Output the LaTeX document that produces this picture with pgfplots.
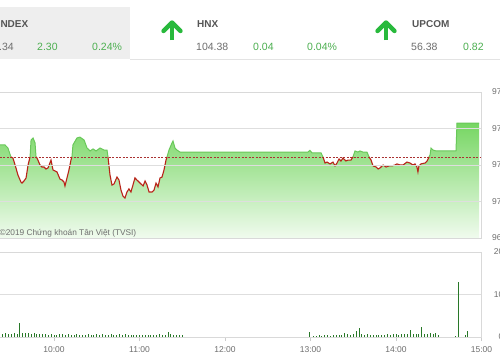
\documentclass[border=0pt]{standalone}
\usepackage{fontspec}
\setmainfont{Liberation Sans}
\usepackage{pgfplots}
\usepackage{pgfplotstable}
\pgfplotsset{compat=1.18}

\definecolor{upgreen}{RGB}{76,175,80}
\definecolor{arrowgreen}{RGB}{40,185,60}
\definecolor{hdrgray}{RGB}{238,238,238}
\definecolor{titlegray}{RGB}{85,85,85}
\definecolor{txtgray}{RGB}{110,110,110}
\definecolor{gridgray}{RGB}{222,222,222}
\definecolor{linegreen}{RGB}{105,200,90}
\definecolor{linered}{RGB}{185,35,25}
\definecolor{refred}{RGB}{170,50,50}
\definecolor{volgreen}{RGB}{40,120,40}
\definecolor{filltop}{RGB}{118,214,98}
\definecolor{fillbot}{RGB}{240,251,238}

% minutes since 9:00, index value, green part, red part
\pgfplotstableread{
m v g r
22.1 973.10 973.10 nan
25.6 973.10 973.10 nan
27.7 972.93 972.93 nan
29.8 972.44 972.44 972.44
31.2 972.38 nan 972.38
33.3 971.84 nan 971.84
34.7 971.45 nan 971.45
36.8 971.07 nan 971.07
37.5 971.01 nan 971.01
38.9 971.12 nan 971.12
40.4 971.29 nan 971.29
41.8 972.00 nan 972.00
43.2 972.44 972.44 972.44
43.9 973.37 973.37 nan
45.3 973.48 973.48 nan
46.7 973.21 973.21 nan
47.4 972.44 972.44 972.44
48.1 972.38 nan 972.38
50.2 972.00 nan 972.00
51.6 971.89 nan 971.89
53.0 971.89 nan 971.89
54.4 971.78 nan 971.78
55.8 971.84 nan 971.84
57.9 972.27 nan 972.27
59.3 971.73 nan 971.73
62.1 971.62 nan 971.62
64.2 971.23 nan 971.23
65.6 971.18 nan 971.18
67.0 971.07 nan 971.07
67.7 970.85 nan 970.85
69.1 971.29 nan 971.29
70.5 971.73 nan 971.73
71.9 972.27 nan 972.27
72.6 972.44 972.44 972.44
73.3 973.10 973.10 nan
76.1 973.48 973.48 nan
78.2 973.53 973.53 nan
81.1 973.37 973.37 nan
83.2 972.93 972.93 nan
85.3 972.77 972.77 nan
87.4 972.88 972.88 nan
89.5 972.77 972.77 nan
92.3 972.93 972.93 nan
95.1 972.82 972.82 nan
97.2 972.82 972.82 nan
97.9 972.44 972.44 972.44
99.3 971.45 nan 971.45
100.7 970.90 nan 970.90
102.1 970.96 nan 970.96
104.2 971.34 nan 971.34
105.6 971.18 nan 971.18
107.0 970.63 nan 970.63
108.4 970.30 nan 970.30
109.8 970.19 nan 970.19
111.2 970.52 nan 970.52
112.6 970.69 nan 970.69
114.0 970.52 nan 970.52
115.4 970.90 nan 970.90
116.8 971.29 nan 971.29
118.2 971.18 nan 971.18
120.4 971.01 nan 971.01
122.5 970.85 nan 970.85
123.9 971.12 nan 971.12
125.3 970.90 nan 970.90
126.7 970.52 nan 970.52
128.8 970.52 nan 970.52
130.2 970.63 nan 970.63
131.6 971.01 nan 971.01
133.0 970.80 nan 970.80
134.4 971.29 nan 971.29
135.8 971.34 nan 971.34
137.2 971.73 nan 971.73
138.6 972.27 nan 972.27
139.3 972.44 972.44 972.44
140.7 972.82 972.82 nan
142.8 973.21 973.21 nan
143.5 973.32 973.32 nan
144.9 972.93 972.93 nan
146.3 972.82 972.82 nan
148.4 972.71 972.71 nan
150.0 972.71 972.71 nan
238.2 972.71 972.71 nan
239.6 972.80 972.80 nan
241.1 972.66 972.66 nan
247.4 972.66 972.66 nan
248.8 972.44 972.44 972.44
250.2 972.11 nan 972.11
251.6 972.16 nan 972.16
253.7 972.06 nan 972.06
255.8 972.16 nan 972.16
257.2 971.95 nan 971.95
258.6 972.11 nan 972.11
260.0 972.33 nan 972.33
261.4 972.22 nan 972.22
262.8 972.38 nan 972.38
264.9 972.22 nan 972.22
266.3 972.27 nan 972.27
268.4 972.27 nan 972.27
269.8 972.44 972.44 972.44
271.2 972.77 972.77 nan
273.3 972.71 972.71 nan
274.7 972.77 972.77 nan
276.8 972.71 972.71 nan
279.6 972.71 972.71 nan
281.1 972.44 972.44 972.44
282.5 972.27 nan 972.27
283.9 971.95 nan 971.95
286.0 971.89 nan 971.89
287.4 971.78 nan 971.78
288.8 971.84 nan 971.84
290.9 972.00 nan 972.00
293.0 971.89 nan 971.89
295.1 971.95 nan 971.95
297.2 971.95 nan 971.95
299.3 972.00 nan 972.00
300.7 972.06 nan 972.06
302.8 972.00 nan 972.00
304.9 972.00 nan 972.00
307.7 972.16 nan 972.16
309.8 972.11 nan 972.11
311.9 972.00 nan 972.00
313.3 972.06 nan 972.06
314.7 971.89 nan 971.89
315.4 971.62 nan 971.62
316.1 971.95 nan 971.95
317.5 972.06 nan 972.06
320.4 972.11 nan 972.11
321.8 972.22 nan 972.22
323.2 972.44 972.44 972.44
323.9 972.55 972.55 nan
324.6 972.93 972.93 nan
326.0 972.82 972.82 nan
328.1 972.77 972.77 nan
342.1 972.77 972.77 nan
342.8 974.30 974.30 nan
358.4 974.30 974.30 nan
}\price

\pgfplotstableread{
m vol
22 0.9
24 0.7
26 0.9
28 0.8
30 0.7
32 1.0
34 0.8
36 3.2
38 1.0
40 0.9
42 1.0
44 0.8
46 0.9
48 0.7
50 0.8
52 0.6
54 0.8
56 0.5
58 0.7
60 0.5
62 0.4
64 0.6
66 0.8
68 0.5
70 0.6
72 0.4
74 0.5
76 0.6
78 0.4
80 0.5
82 0.4
84 0.6
86 0.4
88 0.5
90 0.7
92 0.4
94 0.8
96 0.5
98 0.4
100 0.6
102 0.5
104 0.4
106 0.8
108 0.4
110 0.6
112 0.4
114 0.5
116 0.4
118 0.4
120 0.5
122 0.4
124 0.5
126 0.4
128 0.5
130 0.4
132 0.5
134 0.6
136 0.5
138 0.5
140 1.2
142 0.6
144 0.5
146 0.4
148 0.4
150 0.4
239 1.2
242 0.3
244 0.3
246 0.4
248 0.3
250 0.4
252 0.5
254 0.3
256 0.4
258 0.5
260 0.4
262 0.5
264 0.9
266 0.7
268 0.5
270 0.8
272 1.4
274 2.1
276 0.6
278 0.5
280 0.6
282 0.5
284 0.4
286 0.5
288 0.4
290 0.5
292 0.4
294 0.6
296 0.5
298 0.7
300 0.6
302 0.5
304 0.7
306 0.6
308 0.8
310 1.6
312 0.7
314 0.8
316 0.6
318 2.3
320 0.7
322 0.6
324 0.9
326 0.8
328 0.9
330 0.5
342 0.3
344 13.0
349 0.5
350 1.5
}\volume

\begin{document}
\begin{tikzpicture}
\useasboundingbox (0pt,0pt) rectangle (500pt,360pt);
\clip (0pt,0pt) rectangle (500pt,360pt);
\fill[white] (0pt,0pt) rectangle (500pt,360pt);

% header
\fill[hdrgray] (-5pt,301pt) rectangle (130pt,353pt);
\draw[gray!22, line width=0.6pt] (130pt,301pt) -- (500pt,301pt);

\node[anchor=base east, inner sep=0pt, text=titlegray, font=\fontsize{10}{11}\selectfont\bfseries] at (28.5pt,333pt) {VN-INDEX};
\node[anchor=base east, inner sep=0pt, text=txtgray, font=\fontsize{10.5}{12}\selectfont] at (14pt,310pt) {974.34};
\node[anchor=base west, inner sep=0pt, text=upgreen, font=\fontsize{10.5}{12}\selectfont] at (37pt,310pt) {2.30};
\node[anchor=base west, inner sep=0pt, text=upgreen, font=\fontsize{10.5}{12}\selectfont] at (92pt,310pt) {0.24\%};

\node[anchor=base west, inner sep=0pt, text=titlegray, font=\fontsize{10}{11}\selectfont\bfseries] at (197pt,333pt) {HNX};
\node[anchor=base west, inner sep=0pt, text=txtgray, font=\fontsize{10.5}{12}\selectfont] at (196pt,310pt) {104.38};
\node[anchor=base west, inner sep=0pt, text=upgreen, font=\fontsize{10.5}{12}\selectfont] at (253pt,310pt) {0.04};
\node[anchor=base west, inner sep=0pt, text=upgreen, font=\fontsize{10.5}{12}\selectfont] at (307pt,310pt) {0.04\%};

\node[anchor=base west, inner sep=0pt, text=titlegray, font=\fontsize{10}{11}\selectfont\bfseries] at (412pt,333pt) {UPCOM};
\node[anchor=base west, inner sep=0pt, text=txtgray, font=\fontsize{10.5}{12}\selectfont] at (411pt,310pt) {56.38};
\node[anchor=base west, inner sep=0pt, text=upgreen, font=\fontsize{10.5}{12}\selectfont] at (463pt,310pt) {0.82};

% up arrows
\foreach \cx in {172,386}{
  \draw[arrowgreen, line width=4.4pt] (\cx pt,320pt) -- (\cx pt,337pt);
  \draw[arrowgreen, line width=4.4pt, line join=round, line cap=round] (\cx pt-8.5pt,329pt) -- (\cx pt,337.5pt) -- (\cx pt+8.5pt,329pt);
}

% price panel
\begin{axis}[
  at={(-31.5pt,122pt)}, anchor=south west,
  scale only axis, width=513pt, height=146pt,
  xmin=0, xmax=360, ymin=968, ymax=976,
  axis line style={draw=gray!30, line width=0.6pt},
  xtick=\empty,
  ytick={968,970,972,974,976},
  yticklabels={968,970,972,974,976},
  yticklabel pos=right,
  ytick style={draw=none},
  yticklabel style={anchor=west, inner sep=0pt, xshift=10.5pt, text=txtgray, font=\fontsize{8.5}{10}\selectfont},
  /pgf/number format/assume math mode=true,
  ymajorgrids, grid style={draw=gridgray, line width=0.6pt},
  axis on top,
]
\addplot[draw=none, top color=filltop, bottom color=fillbot] table[x=m, y=v] {\price} -- (axis cs:358.4,968) -- (axis cs:22.1,968) -- cycle;
\addplot[refred, line width=0.6pt, dash pattern=on 2pt off 1.5pt] coordinates {(0,972.44) (360,972.44)};
\addplot[linegreen, line width=1pt, unbounded coords=jump] table[x=m, y=g] {\price};
\addplot[linered, line width=1.1pt, unbounded coords=jump] table[x=m, y=r] {\price};
\end{axis}

\node[anchor=base west, inner sep=0pt, text=txtgray, font=\fontsize{8.3}{9}\selectfont] at (-0.5pt,125pt) {©2019 Chứng khoán Tân Việt (TVSI)};

% volume panel
\begin{axis}[
  at={(-31.5pt,23pt)}, anchor=south west,
  scale only axis, width=513pt, height=85pt,
  xmin=0, xmax=360, ymin=0, ymax=20,
  axis line style={draw=gray!30, line width=0.6pt},
  xtick={60,120,180,240,300,360},
  xticklabels={10:00,11:00,12:00,13:00,14:00,15:00},
  xtick pos=left, tick align=outside, major tick length=4pt,
  xtick style={draw=gray!40, line width=0.6pt},
  xticklabel style={anchor=north, inner sep=0pt, yshift=-5pt, text=txtgray, font=\fontsize{8.5}{10}\selectfont},
  ytick={0,10,20},
  yticklabels={0,10,20},
  yticklabel pos=right,
  ytick style={draw=none},
  yticklabel style={anchor=east, inner sep=0pt, xshift=18pt, text=txtgray, font=\fontsize{8.5}{10}\selectfont},
  /pgf/number format/assume math mode=true,
  ymajorgrids, grid style={draw=gridgray, line width=0.6pt},
]
\addplot[ycomb, volgreen, line width=0.9pt, mark=none] table[x=m, y=vol] {\volume};
\end{axis}
\end{tikzpicture}
\end{document}
